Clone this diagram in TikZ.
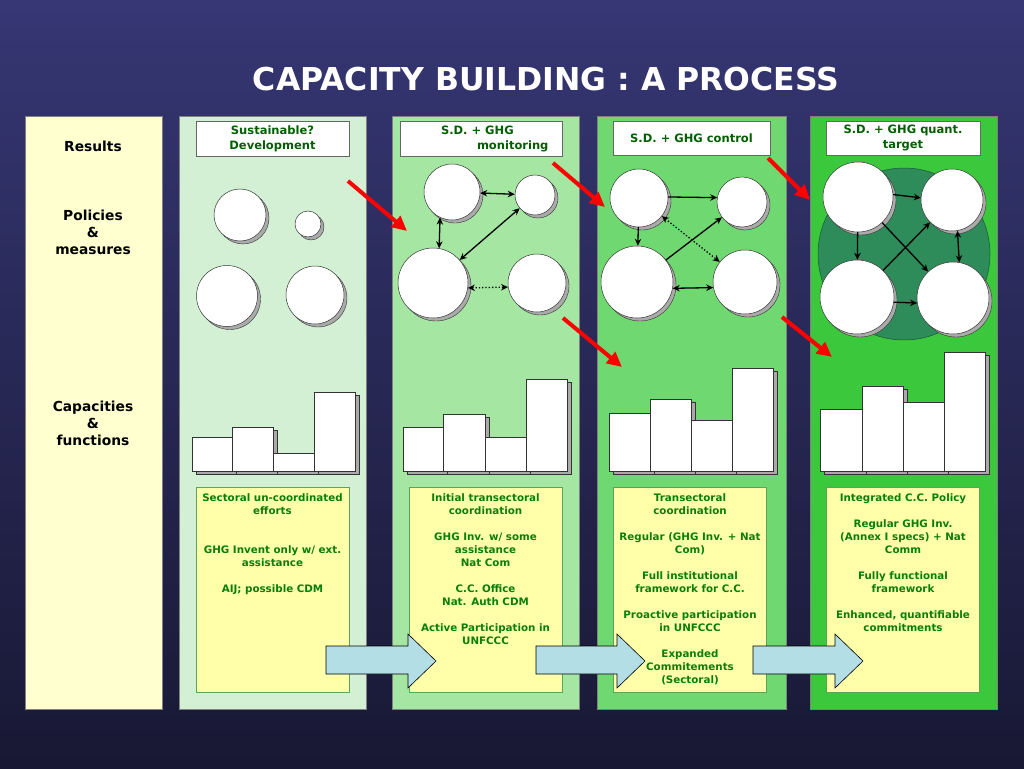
\documentclass[tikz,border=0pt]{standalone}
\usepackage{fontspec}
\setmainfont{DejaVu Sans}
\usetikzlibrary{shadows,arrows.meta}
\definecolor{bgtop}{RGB}{54,55,116}
\definecolor{bgbot}{RGB}{24,24,52}
\definecolor{lab}{RGB}{255,255,208}
\definecolor{pone}{RGB}{212,240,212}
\definecolor{ptwo}{RGB}{165,230,162}
\definecolor{pthree}{RGB}{112,216,112}
\definecolor{pfour}{RGB}{60,200,60}
\definecolor{hdrgreen}{RGB}{0,95,0}
\definecolor{txtgreen}{RGB}{10,125,10}
\definecolor{yel}{RGB}{255,255,170}
\definecolor{deepgreen}{RGB}{46,140,90}
\definecolor{blk}{RGB}{180,222,230}
\definecolor{shad}{RGB}{170,170,170}
\tikzset{
  panel/.style={rectangle, draw=black!50, line width=0.5pt, inner sep=0pt, anchor=north west},
  hdr/.style={rectangle, draw=gray!80!black, fill=white, line width=0.5pt, inner sep=0pt,
    minimum height=35pt, align=center, text=hdrgreen, font=\bfseries\fontsize{11.5}{15}\selectfont},
  ybox/.style={rectangle, draw=gray!70!green, fill=yel, line width=0.5pt, inner xsep=1.5pt, inner ysep=2pt,
    anchor=north, text=txtgreen, font=\bfseries\fontsize{10.3}{13}\selectfont},
  lbl/.style={align=center, text=black, font=\bfseries\fontsize{13.8}{17}\selectfont},
  bub/.style={circle, draw=gray!40!black, fill=white, line width=0.5pt, inner sep=0pt,
    general shadow={fill=shad, draw=gray!40!black, line width=0.4pt, shadow xshift=3pt, shadow yshift=-3pt}},
  bar/.style={rectangle, draw=gray!40!black, fill=white, line width=0.5pt, inner sep=0pt, anchor=south west,
    general shadow={fill=shad, draw=gray!40!black, line width=0.4pt, shadow xshift=4pt, shadow yshift=-3pt}},
  conn/.style={black, line width=1.3pt, {Stealth[length=7pt,width=6.5pt]}-{Stealth[length=7pt,width=6.5pt]}},
  oneway/.style={black, line width=1.3pt, -{Stealth[length=7pt,width=6.5pt]}},
  redarr/.style={red, line width=4pt, -{Triangle[length=15pt,width=14pt]}},
  barrow/.style={draw=black, fill=blk, line width=0.6pt, line join=miter}
}
\begin{document}
\begin{tikzpicture}[x=1pt,y=-1pt]
\useasboundingbox (0,0) rectangle (1024,768);
\shade[top color=bgtop,bottom color=bgbot] (0,0) rectangle (1024,768);

\node[text=white, font=\bfseries\fontsize{31.5}{36}\selectfont] (title) at (546,79) {CAPACITY BUILDING : A PROCESS};

% panels
\node[panel, fill=lab, minimum width=137pt, minimum height=593pt] (p0) at (25,116) {};
\node[panel, fill=pone, minimum width=187pt, minimum height=593pt] (p1) at (179,116) {};
\node[panel, fill=ptwo, minimum width=187pt, minimum height=593pt] (p2) at (392,116) {};
\node[panel, fill=pthree, minimum width=189pt, minimum height=593pt] (p3) at (597,116) {};
\node[panel, fill=pfour, minimum width=187pt, minimum height=593pt] (p4) at (810,116) {};

% left labels
\node[lbl] (l1) at (93,146) {Results};
\node[lbl] (l2) at (93,232) {Policies\\\&\\measures};
\node[lbl] (l3) at (93,423) {Capacities\\\&\\functions};

% headers
\node[hdr, minimum width=153pt] (h1) at (272.5,138.5) {Sustainable?\\Development};
\node[hdr, minimum width=162pt] (h2) at (481,138.5) {\makebox[150pt][l]{\hspace*{35pt}S.D. + GHG}\\\makebox[150pt][l]{\hspace*{71pt}monitoring}};
\node[hdr, minimum width=157pt, minimum height=34pt] (h3) at (691.5,138) {S.D. + GHG control};
\node[hdr, minimum width=154pt, minimum height=34pt] (h4) at (903,138) {S.D. + GHG quant.\\target};

% panel 1 circles
\node[bub, minimum size=52pt] (p1a) at (240,215) {};
\node[bub, minimum size=26pt] (p1b) at (308,224) {};
\node[bub, minimum size=61pt] (p1c) at (227,296) {};
\node[bub, minimum size=58pt] (p1d) at (315,295) {};

% panel 2 circles
\node[bub, minimum size=56pt] (p2a) at (452,192) {};
\node[bub, minimum size=40pt] (p2b) at (535,195) {};
\node[bub, minimum size=70pt] (p2c) at (433,283) {};
\node[bub, minimum size=58pt] (p2d) at (537,283) {};
\draw[conn] (p2a) -- (p2b);
\draw[conn] (p2a.-115) -- (p2c.80);
\draw[conn] (p2c) -- (p2b);
\draw[conn, dotted] (p2c.-8) -- (p2d.188);

% panel 3 circles
\node[bub, minimum size=58pt] (p3a) at (639,198) {};
\node[bub, minimum size=50pt] (p3b) at (742,202) {};
\node[bub, minimum size=72pt] (p3c) at (637,282) {};
\node[bub, minimum size=64pt] (p3d) at (745,282) {};
\draw[oneway] (p3a.2) -- (p3b.170);
\draw[oneway] (p3a) -- (p3c);
\draw[oneway] (p3c) -- (p3b);
\draw[conn, dotted] (p3a) -- (p3d);
\draw[conn] (p3c.-10) -- (p3d.190);

% panel 4 circles
\node[circle, draw=black!40!deepgreen, fill=deepgreen, line width=0.5pt, minimum size=172pt, inner sep=0pt] (p4bg) at (904,254) {};
\node[bub, minimum size=70pt] (p4a) at (858,197) {};
\node[bub, minimum size=62pt] (p4b) at (952,200) {};
\node[bub, minimum size=74pt] (p4c) at (857,297) {};
\node[bub, minimum size=72pt] (p4d) at (953,298) {};
\draw[oneway] (p4a.4) -- (p4b.176);
\draw[oneway] (p4a) -- (p4c);
\draw[oneway] (p4a) -- (p4d);
\draw[oneway] (p4c) -- (p4b);
\draw[conn] (p4b.-80) -- (p4d.80);
\draw[oneway] (p4c.-8) -- (p4d.188);

% bars panel 1
\node[bar, minimum width=40pt, minimum height=34pt] (b11) at (192,471) {};
\node[bar, minimum width=41pt, minimum height=44pt] (b12) at (232,471) {};
\node[bar, minimum width=41pt, minimum height=18pt] (b13) at (273,471) {};
\node[bar, minimum width=41pt, minimum height=79pt] (b14) at (314,471) {};
% bars panel 2
\node[bar, minimum width=40pt, minimum height=44pt] (b21) at (403,471) {};
\node[bar, minimum width=42pt, minimum height=57pt] (b22) at (443,471) {};
\node[bar, minimum width=41pt, minimum height=34pt] (b23) at (485,471) {};
\node[bar, minimum width=41pt, minimum height=92pt] (b24) at (526,471) {};
% bars panel 3
\node[bar, minimum width=41pt, minimum height=58pt] (b31) at (609,471) {};
\node[bar, minimum width=41pt, minimum height=72pt] (b32) at (650,471) {};
\node[bar, minimum width=41pt, minimum height=51pt] (b33) at (691,471) {};
\node[bar, minimum width=41pt, minimum height=103pt] (b34) at (732,471) {};
% bars panel 4
\node[bar, minimum width=42pt, minimum height=62pt] (b41) at (820,471) {};
\node[bar, minimum width=41pt, minimum height=85pt] (b42) at (862,471) {};
\node[bar, minimum width=41pt, minimum height=69pt] (b43) at (903,471) {};
\node[bar, minimum width=41pt, minimum height=119pt] (b44) at (944,471) {};

% yellow boxes
\node[ybox] (y1) at (272.5,487) {\parbox[t][201pt][t]{150pt}{\centering
\rule{0pt}{12.5pt}Sectoral un-coordinated\\efforts\\[26pt]
GHG Invent only w/ ext.\\assistance\\[13pt]
AIJ; possible CDM}};
\node[ybox] (y2) at (485.5,487) {\parbox[t][201pt][t]{150pt}{\centering
\rule{0pt}{12.5pt}Initial transectoral\\coordination\\[13pt]
GHG Inv. w/ some\\assistance\\Nat Com\\[13pt]
C.C. Office\\Nat. Auth CDM\\[13pt]
Active Participation in\\UNFCCC}};
\node[ybox] (y3) at (690,487) {\parbox[t][201pt][t]{150pt}{\centering
\rule{0pt}{12.5pt}Transectoral\\coordination\\[13pt]
Regular (GHG Inv. + Nat\\Com)\\[13pt]
Full institutional\\framework for C.C.\\[13pt]
Proactive participation\\in UNFCCC\\[13pt]
Expanded\\Commitements\\(Sectoral)}};
\node[ybox] (y4) at (903,487) {\parbox[t][201pt][t]{150pt}{\centering
\rule{0pt}{12.5pt}Integrated C.C. Policy\\[13pt]
Regular GHG Inv.\\(Annex I specs) + Nat\\Comm\\[13pt]
Fully functional\\framework\\[13pt]
Enhanced, quantifiable\\commitments}};

% block arrows
\draw[barrow] (326,646) -- (408,646) -- (408,634) -- (436,661) -- (408,688) -- (408,674) -- (326,674) -- cycle;
\draw[barrow] (536,646) -- (617,646) -- (617,634) -- (645,661) -- (617,688) -- (617,674) -- (536,674) -- cycle;
\draw[barrow] (753,646) -- (835,646) -- (835,634) -- (863,661) -- (835,688) -- (835,674) -- (753,674) -- cycle;

% red arrows
\coordinate (r1s) at (348,181); \coordinate (r1e) at (407,231);
\coordinate (r2s) at (553,163); \coordinate (r2e) at (605,207);
\coordinate (r3s) at (563,318); \coordinate (r3e) at (622,367);
\coordinate (r4s) at (768,158); \coordinate (r4e) at (810,200);
\coordinate (r5s) at (782,317); \coordinate (r5e) at (832,357);
\draw[redarr] (r1s) -- (r1e);
\draw[redarr] (r2s) -- (r2e);
\draw[redarr] (r3s) -- (r3e);
\draw[redarr] (r4s) -- (r4e);
\draw[redarr] (r5s) -- (r5e);
\end{tikzpicture}
\end{document}
